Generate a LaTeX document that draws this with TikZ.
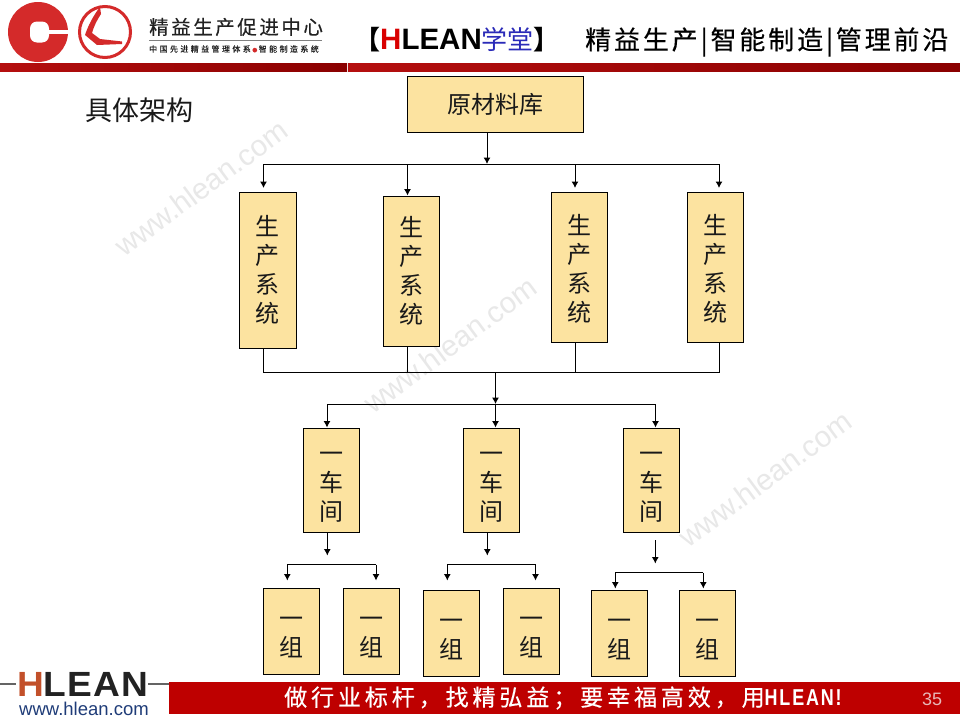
\documentclass[tikz,border=0pt]{standalone}
\usepackage{fontspec}
\usetikzlibrary{arrows.meta}
\setmainfont{Liberation Sans}
\newfontfamily\cjk{Noto Sans CJK SC}
\newfontfamily\cjkmed[FakeBold=0.35]{Noto Sans CJK SC}
\newfontfamily\cjkfoot[LetterSpace=17,FakeBold=0.45]{Noto Sans CJK SC}
\newfontfamily\condfont[FakeStretch=0.78,LetterSpace=8]{Liberation Sans}
\newfontfamily\hlfont[FakeStretch=1.06,LetterSpace=3]{Liberation Sans}
\newcommand{\dn}[1]{\rule{0pt}{#1pt}}
\definecolor{boxfill}{HTML}{FCE3A0}
\definecolor{barred}{HTML}{BE0000}
\definecolor{hdrL}{HTML}{B50F0F}
\definecolor{hdrR}{HTML}{8A0000}
\definecolor{logored}{HTML}{D42A2A}
\definecolor{wm}{HTML}{E8E8E8}
\definecolor{rust}{HTML}{C2502A}
\definecolor{darkgr}{HTML}{222222}
\definecolor{urlblue}{HTML}{1F3C78}
\definecolor{xuetang}{HTML}{2A2AB8}
\definecolor{pgcol}{HTML}{E8B8B8}
\tikzset{
  bx/.style={draw=black,line width=1pt,fill=boxfill,inner sep=0pt,align=center,text=black!90,font=\cjk\fontsize{24}{29}\selectfont},
  conn/.style={line width=1pt,draw=black},
  arr/.style={conn,-{Latex[length=6.5pt,width=7pt]}},
  watermark/.style={text=wm,font=\fontsize{29.5}{34}\selectfont,rotate=36.5,inner sep=0pt}
}
\begin{document}
\begin{tikzpicture}[x=1pt,y=-1pt]
\useasboundingbox (0,0) rectangle (960,720);
\fill[white] (0,0) rectangle (960,720);
% watermarks
\node[watermark] (wm1) at (201,188) {www.hlean.com};
\node[watermark] (wm2) at (450,345) {www.hlean.com};
\node[watermark] (wm3) at (765,479) {www.hlean.com};
% header
\fill[logored] (38,32) circle (30);
\fill[white,rounded corners=7pt] (30,21.5) rectangle (49,42.5);
\fill[white] (46,29.5) rectangle (69,34);
\draw[logored,line width=3pt] (105,32) circle (25.5);
\fill[logored] (100,7) .. controls (93,16) and (88,26) .. (85,35) -- (97,45) -- (122,44) -- (122,41.5) -- (100,39) -- (92,33) .. controls (94,26) and (97,20) .. (101,14) -- cycle;
\node[inner sep=0pt,anchor=west,font=\cjkmed\fontsize{19.5}{22}\selectfont,text=darkgr] (brand) at (149,27) {\addfontfeatures{LetterSpace=13}精益生产促进中心};
\draw[gray,line width=.6pt] (149,40) -- (322,40);
\node[inner sep=0pt,anchor=west,font=\cjkmed\fontsize{8}{10}\selectfont,text=darkgr] (brandsub) at (149,49) {\addfontfeatures{LetterSpace=30}中国先进精益管理体系\hspace{1.5pt}{\textcolor{logored}{\fontsize{5}{6}\selectfont ●}}\hspace{1.5pt}智能制造系统};
\node[inner sep=0pt,anchor=west,font=\fontsize{26}{30}\selectfont] (hlean) at (354,40) {\cjk\bfseries 【{\fontspec{Liberation Sans}\bfseries\fontsize{29.5}{30}\selectfont\textcolor{red!85!black}{H}LEAN}{\cjk\mdseries\textcolor{xuetang}{学堂}}】};
\node[inner sep=0pt,anchor=west,font=\cjkmed\fontsize{26}{30}\selectfont,text=black] (slogan) at (585,42) {\addfontfeatures{LetterSpace=11}精益生产|智能制造|管理前沿};
\shade[left color=hdrL,right color=hdrR] (0,63) rectangle (347,71);
\shade[left color=hdrL,right color=hdrR] (348,63) rectangle (960,71);
\node[inner sep=0pt,anchor=west,font=\cjk\fontsize{27}{30}\selectfont,text=black!90] (title) at (85,110) {具体架构};
% boxes
\node[bx,minimum width=176pt,minimum height=56pt] (root) at (495,104) {原材料库};
\node[bx,minimum width=57pt,minimum height=156pt] (s1) at (267.5,270) {\dn{20.5}生\\产\\系\\统};
\node[bx,minimum width=56pt,minimum height=150pt] (s2) at (411,271) {\dn{20.5}生\\产\\系\\统};
\node[bx,minimum width=56pt,minimum height=150pt] (s3) at (579,267) {\dn{23}生\\产\\系\\统};
\node[bx,minimum width=56pt,minimum height=150pt] (s4) at (715,267) {\dn{23}生\\产\\系\\统};
\node[bx,minimum width=56pt,minimum height=104pt] (c1) at (331,480) {\dn{24}一\\车\\间};
\node[bx,minimum width=56pt,minimum height=104pt] (c2) at (491,480) {\dn{24}一\\车\\间};
\node[bx,minimum width=56pt,minimum height=104pt] (c3) at (651,480) {\dn{24}一\\车\\间};
\node[bx,minimum width=56pt,minimum height=86pt] (g1) at (291,631) {\dn{23.5}一\\组};
\node[bx,minimum width=56pt,minimum height=86pt] (g2) at (371,631) {\dn{23.5}一\\组};
\node[bx,minimum width=56pt,minimum height=86pt] (g3) at (451,633) {\dn{23.5}一\\组};
\node[bx,minimum width=56pt,minimum height=86pt] (g4) at (531,631) {\dn{23.5}一\\组};
\node[bx,minimum width=56pt,minimum height=86pt] (g5) at (619,633) {\dn{23.5}一\\组};
\node[bx,minimum width=56pt,minimum height=86pt] (g6) at (707,633) {\dn{23.5}一\\组};
% top bus
\coordinate (b0) at (487,164);
\coordinate (b1) at (263.5,164);
\coordinate (b2) at (407.5,164);
\coordinate (b3) at (575,164);
\coordinate (b4) at (719,164);
\coordinate (b1e) at (263.5,188);
\coordinate (b3e) at (575,188);
\coordinate (b4e) at (719,188);
\draw[arr] (b0 |- root.south) -- (b0);
\draw[conn] (b1) -- (b4);
\draw[arr] (b1) -- (b1e);
\draw[arr] (b2) -- (b2 |- s2.north);
\draw[arr] (b3) -- (b3e);
\draw[arr] (b4) -- (b4e);
% middle bus
\coordinate (m0) at (495.5,372.5);
\coordinate (m1) at (263.5,372.5);
\coordinate (m2) at (407.5,372.5);
\coordinate (m3) at (575,372.5);
\coordinate (m4) at (719,372.5);
\draw[conn] (m1 |- s1.south) -- (m1) -- (m4) -- (m4 |- s4.south);
\draw[conn] (m2 |- s2.south) -- (m2);
\draw[conn] (m3 |- s3.south) -- (m3);
\coordinate (n0) at (495.5,404);
\coordinate (n1) at (327,404);
\coordinate (n3) at (655.5,404);
\draw[arr] (m0) -- (n0);
\draw[conn] (n1) -- (n3);
\draw[arr] (n1) -- (n1 |- c1.north);
\draw[arr] (n0) -- (n0 |- c2.north);
\draw[arr] (n3) -- (n3 |- c3.north);
% lower groups
\coordinate (k1) at (327.3,555.5);
\coordinate (k2) at (487.3,555.5);
\coordinate (k3) at (655.3,563.5);
\coordinate (k3s) at (655.3,540);
\draw[arr] (k1 |- c1.south) -- (k1);
\draw[arr] (k2 |- c2.south) -- (k2);
\draw[arr] (k3s) -- (k3);
\coordinate (p1) at (287.3,564.5);
\coordinate (p2) at (376,564.5);
\coordinate (p1e) at (287.3,580.5);
\coordinate (p2e) at (376,580.5);
\coordinate (q1) at (447.3,564.5);
\coordinate (q2) at (535.5,564.5);
\coordinate (q1e) at (447.3,580.5);
\coordinate (q2e) at (535.5,580.5);
\coordinate (r1) at (615.3,572.5);
\coordinate (r2) at (703.3,572.5);
\coordinate (r1e) at (615.3,588.5);
\coordinate (r2e) at (703.3,588.5);
\draw[arr] (p1) -- (p1e);
\draw[arr] (p2) -- (p2e);
\draw[conn] (p1) -- (p2);
\draw[arr] (q1) -- (q1e);
\draw[arr] (q2) -- (q2e);
\draw[conn] (q1) -- (q2);
\draw[arr] (r1) -- (r1e);
\draw[arr] (r2) -- (r2e);
\draw[conn] (r1) -- (r2);
% footer
\fill[barred] (169,682) rectangle (960,714);
\draw[darkgr!70,line width=1.5pt] (0,684) -- (16,684);
\draw[darkgr!70,line width=1.5pt] (148,684) -- (169,684);
\node[inner sep=0pt,anchor=west,font=\hlfont\fontsize{35}{36}\bfseries\selectfont,text=darkgr] (hl) at (17,684) {\textcolor{rust}{H}LEAN};
\node[inner sep=0pt,anchor=west,font=\fontsize{18.5}{20}\selectfont,text=urlblue] (url) at (19,709) {www.hlean.com};
\node[inner sep=0pt,anchor=west,font=\cjkfoot\fontsize{23}{26}\selectfont,text=white] (foot) at (284,698) {做行业标杆，找精弘益；要幸福高效，用{\condfont\bfseries HLEAN!}};
\node[inner sep=0pt,font=\fontsize{18}{20}\selectfont,text=pgcol] (pg) at (932,699) {35};
\end{tikzpicture}
\end{document}
